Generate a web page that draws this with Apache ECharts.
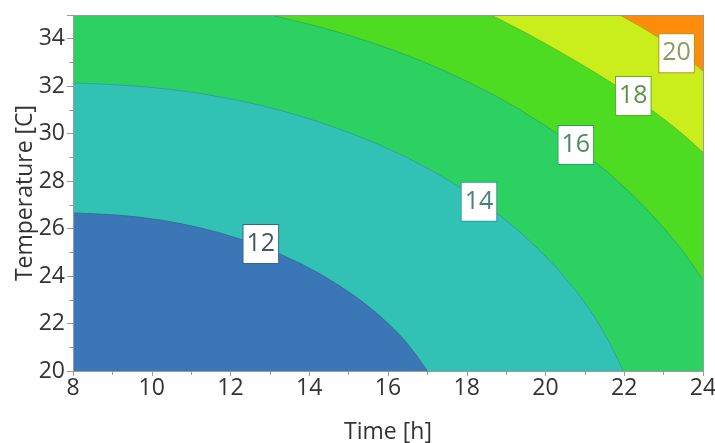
<!DOCTYPE html>
<html><head><meta charset="utf-8">
<script src="https://cdn.jsdelivr.net/npm/echarts@6/dist/echarts.min.js"></script>
<style>html,body{margin:0;padding:0;background:#fff}#c{width:715px;height:443px}</style>
</head><body><div id="c"></div>
<script>
// ---- data ----
const levels = [12, 14, 16, 18, 20];
// contour lines: [time h, temperature C]
const contour12 = [[8,26.66],[9.19,26.58],[10.21,26.38],[11.23,26.05],[12.24,25.58],[13.26,24.95],[14.27,24.13],[15.29,23.03],[16.05,21.96],[16.56,21.05],[17.0,20]];
const contour14 = [[8,32.14],[9.70,32.02],[11.23,31.72],[12.75,31.23],[14.27,30.51],[15.80,29.55],[17.07,28.52],[18.34,27.21],[19.35,25.90],[20.37,24.24],[21.13,22.61],[21.64,21.19],[21.97,20]];
const contour16 = [[13.01,35],[14.27,34.51],[15.54,33.88],[16.81,33.11],[18.08,32.17],[19.35,31.04],[20.62,29.66],[21.64,28.33],[22.65,26.71],[23.42,25.23],[24,23.85]];
const contour18 = [[18.62,35],[19.61,34.16],[20.62,33.21],[21.64,32.20],[22.65,31.06],[23.42,30.09],[24,29.21]];
const contour20 = [[21.89,35],[22.53,34.41],[23.16,33.74],[23.67,33.11],[24,32.64]];
const contours = [contour12, contour14, contour16, contour18, contour20];
const labelPositions = [[12.77,25.35],[18.31,27.13],[20.77,29.52],[22.23,31.59],[23.33,33.39]];
const xRange = [8, 24];
const yRange = [20, 35];

// ---- styles ----
const regionColors = ['#3b77b6', '#32c2b5', '#2dd162', '#4edc22', '#c9ee1b']; // region just below each level
const topColor = '#fd8c0a';
const lineColors = ['#2e6a8e', '#2a9e92', '#2aa85a', '#5fb224', '#b79a1a'];
const labelText = ['#46566a', '#4a8278', '#4a8a62', '#5a9444', '#8c9c5c'];
const FONT = 'Open Sans';

const chart = echarts.init(document.getElementById('c'));

function smoothPath(P) {
  let d = '';
  if (P.length < 3) { P.forEach(p => d += ' L' + p[0] + ' ' + p[1]); return d; }
  const mid = (a, b) => [(a[0] + b[0]) / 2, (a[1] + b[1]) / 2];
  let m = mid(P[0], P[1]);
  d += ' L' + m[0] + ' ' + m[1];
  for (let i = 1; i < P.length - 1; i++) {
    m = mid(P[i], P[i + 1]);
    d += ' Q' + P[i][0] + ' ' + P[i][1] + ' ' + m[0] + ' ' + m[1];
  }
  const l = P[P.length - 1];
  d += ' L' + l[0] + ' ' + l[1];
  return d;
}

// draw order: highest level first, lower regions on top
const order = [4, 3, 2, 1, 0];
const axisGray = '#9a9a9a';

const option = {
  animation: false,
  backgroundColor: '#fff',
  grid: { left: 73, right: 12, top: 15, bottom: 72, containLabel: false, outerBoundsMode: 'none',
          show: true, backgroundColor: topColor, borderColor: 'transparent' },
  xAxis: [{
    type: 'value', min: xRange[0], max: xRange[1], interval: 2, position: 'bottom', z: 10,
    name: 'Time [h]', nameLocation: 'middle', nameGap: 50, nameMoveOverlap: false,
    nameTextStyle: { fontSize: 23, fontFamily: FONT, color: '#333' },
    axisLine: { show: true, onZero: false, lineStyle: { color: axisGray, width: 1 } },
    axisTick: { show: true, length: 5, lineStyle: { color: axisGray } },
    minorTick: { show: true, splitNumber: 2, length: 4, lineStyle: { color: axisGray } },
    axisLabel: { fontSize: 23, fontFamily: FONT, color: '#333', margin: 6, hideOverlap: false },
    splitLine: { show: false }
  }, {
    type: 'value', min: xRange[0], max: xRange[1], position: 'top', z: 10,
    axisLine: { show: true, onZero: false, lineStyle: { color: axisGray, width: 1 } },
    axisTick: { show: false }, axisLabel: { show: false }, splitLine: { show: false }
  }],
  yAxis: [{
    type: 'value', min: yRange[0], max: yRange[1], interval: 2, position: 'left', z: 10,
    name: 'Temperature [C]', nameLocation: 'middle', nameGap: 36, nameMoveOverlap: false,
    nameTextStyle: { fontSize: 23, fontFamily: FONT, color: '#333' },
    axisLine: { show: true, onZero: false, lineStyle: { color: axisGray, width: 1 } },
    axisTick: { show: true, length: 6, lineStyle: { color: axisGray } },
    minorTick: { show: true, splitNumber: 2, length: 4, lineStyle: { color: axisGray } },
    axisLabel: { fontSize: 23, fontFamily: FONT, color: '#333', margin: 8, showMaxLabel: false,
                 formatter: v => (v % 2 === 0 ? String(v) : '') },
    splitLine: { show: false }
  }, {
    type: 'value', min: yRange[0], max: yRange[1], position: 'right', z: 10,
    axisLine: { show: true, onZero: false, lineStyle: { color: axisGray, width: 1 } },
    axisTick: { show: false }, axisLabel: { show: false }, splitLine: { show: false }
  }],
  series: [{
    type: 'custom',
    xAxisIndex: 0, yAxisIndex: 0,
    z: 2,
    clip: true,
    data: order.map(i => [labelPositions[i][0], labelPositions[i][1], i]),
    renderItem: function (params, api) {
      const li = order[params.dataIndex];
      const pts = contours[li];
      const P = pts.map(p => api.coord(p));
      const c00 = api.coord([xRange[0], yRange[0]]);
      const c01 = api.coord([xRange[0], yRange[1]]);
      const c10 = api.coord([xRange[1], yRange[0]]);
      const first = pts[0], last = pts[pts.length - 1];
      let d = 'M' + c00[0] + ' ' + c00[1];
      if (first[1] === yRange[1]) d += ' L' + c01[0] + ' ' + c01[1];
      d += ' L' + P[0][0] + ' ' + P[0][1];
      d += smoothPath(P);
      if (last[0] === xRange[1]) d += ' L' + c10[0] + ' ' + c10[1];
      d += ' Z';
      const ld = 'M' + P[0][0] + ' ' + P[0][1] + smoothPath(P);
      return {
        type: 'group',
        children: [
          { type: 'path', shape: { pathData: d }, style: { fill: regionColors[li], stroke: null } },
          { type: 'path', shape: { pathData: ld }, style: { fill: null, stroke: lineColors[li], lineWidth: 1, opacity: 0.8 } }
        ]
      };
    }
  }, {
    type: 'scatter',
    xAxisIndex: 0, yAxisIndex: 0,
    z: 5,
    symbolSize: 0,
    itemStyle: { color: 'rgba(0,0,0,0)', opacity: 1 },
    data: levels.map((lv, i) => ({
      value: [labelPositions[i][0], labelPositions[i][1], lv],
      label: { color: labelText[i], borderColor: lineColors[i] }
    })),
    label: {
      show: true, position: 'inside', opacity: 1,
      formatter: p => String(p.value[2]),
      fontSize: 25, fontFamily: FONT,
      backgroundColor: '#ffffff', borderWidth: 1,
      padding: [4, 3, 2, 3], lineHeight: 32
    },
    labelLayout: { hideOverlap: false },
    emphasis: { disabled: true },
    silent: true
  }]
};
chart.setOption(option);
</script>
</body></html>
